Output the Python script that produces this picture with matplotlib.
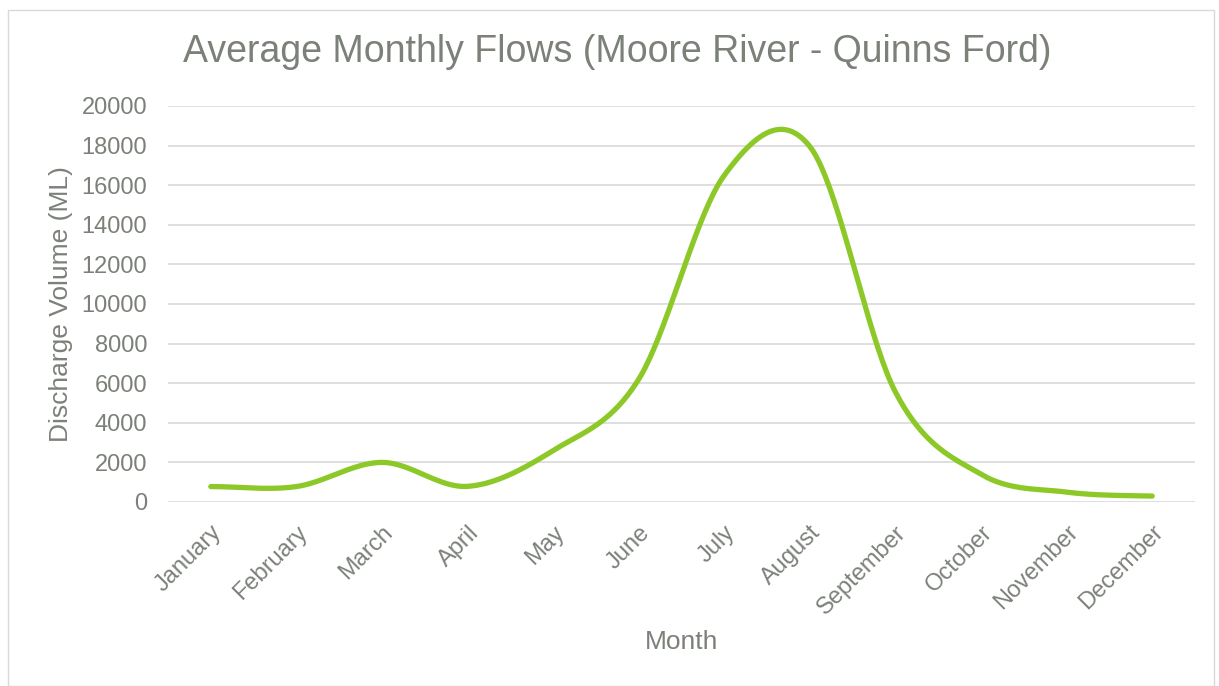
import numpy as np
from matplotlib import pyplot as plt
from matplotlib.patches import Rectangle

months = ['January', 'February', 'March', 'April', 'May', 'June', 'July',
          'August', 'September', 'October', 'November', 'December']
flows = [780, 780, 2000, 790, 2600, 6200, 16500, 17950, 5550, 1400, 500, 300]
yticks = [0, 2000, 4000, 6000, 8000, 10000, 12000, 14000, 16000, 18000, 20000]

text_col = '#7b8179'
line_col = '#8cc928'
grid_col = '#dcdcdc'

plt.rcParams['font.family'] = ['Liberation Sans', 'DejaVu Sans']


def smooth(ys, n=40):
    # Excel-style smoothed line (Catmull-Rom / Bezier with 1/6 control points)
    ys = np.asarray(ys, dtype=float)
    pad = np.concatenate([[ys[0]], ys, [ys[-1]]])
    xs_out, ys_out = [], []
    t = np.linspace(0, 1, n)
    for i in range(len(ys) - 1):
        p0, p3 = ys[i], ys[i + 1]
        p1 = p0 + (pad[i + 2] - pad[i]) / 6
        p2 = p3 - (pad[i + 3] - pad[i + 1]) / 6
        seg = ((1 - t) ** 3 * p0 + 3 * (1 - t) ** 2 * t * p1
               + 3 * (1 - t) * t ** 2 * p2 + t ** 3 * p3)
        xs_out.append(i + t)
        ys_out.append(seg)
    return np.concatenate(xs_out), np.concatenate(ys_out)


fig = plt.figure(figsize=(12.19, 6.86), dpi=100)
fig.patches.append(Rectangle((8 / 1219, 0), 1206 / 1219, 676 / 686, transform=fig.transFigure,
                             fill=False, edgecolor='#d9d9d9', linewidth=1))

ax = fig.add_axes([168 / 1219, 1 - 502 / 686, (1195 - 168) / 1219, (502 - 106) / 686])

sx, sy = smooth(flows)
ax.plot(sx, sy, color=line_col, linewidth=3.8, solid_capstyle='round', zorder=3)

ax.set_xlim(-0.5, len(months) - 0.5)
ax.set_ylim(0, 20000)
ax.set_yticks(yticks)
ax.set_yticklabels([str(v) for v in yticks], fontsize=17, color=text_col)
ax.set_xticks(range(len(months)))
ax.set_xticklabels(months, rotation=45, ha='right', va='top', rotation_mode='anchor',
                   fontsize=17, color=text_col)
ax.tick_params(length=0)
ax.tick_params(axis='y', pad=15)
ax.tick_params(axis='x', pad=14)
ax.grid(axis='y', color=grid_col, linewidth=1.3)
ax.set_axisbelow(True)
for s in ax.spines.values():
    s.set_visible(False)

ax.set_xlabel('Month', fontsize=19, color=text_col, labelpad=8)
ax.set_ylabel('Discharge Volume (ML)', fontsize=19, color=text_col, labelpad=6)
fig.text(617 / 1219, 1 - 52 / 686, 'Average Monthly Flows (Moore River - Quinns Ford)',
         ha='center', va='center', fontsize=27, color=text_col)

fig.savefig('out.png', dpi=100)
